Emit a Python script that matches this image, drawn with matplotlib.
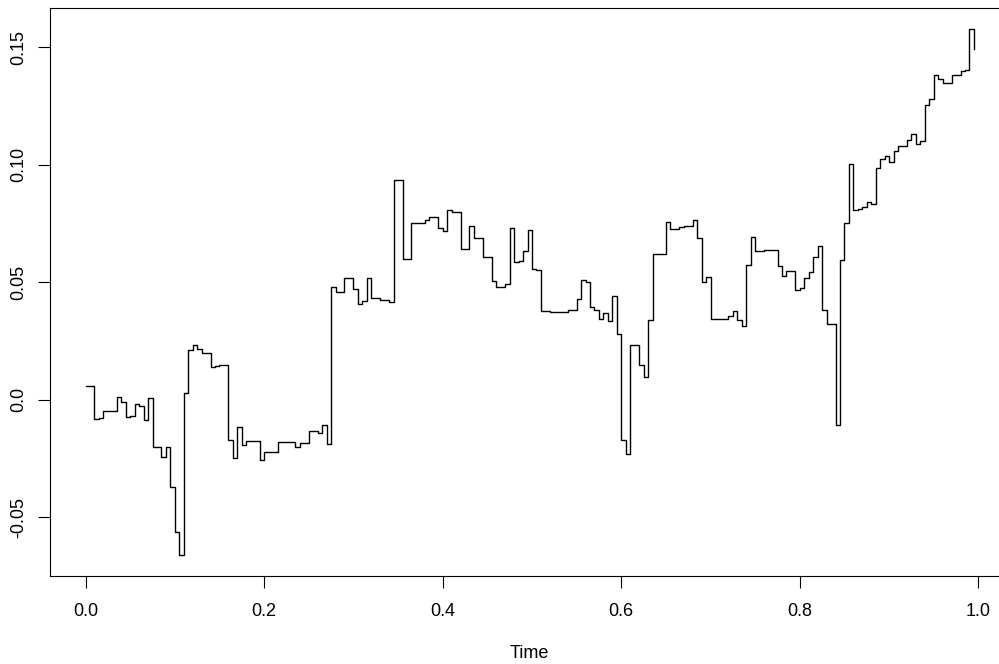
import numpy as np
import matplotlib
matplotlib.use("Agg")
import matplotlib.pyplot as plt

# sampled path, one value every 1/200 of the time axis
n_steps = 200
path_values = [
    0.0057, 0.0057, -0.0081, -0.0077, -0.0047, -0.0047, -0.0047, 0.0014, -0.0009, -0.0072,
    -0.0068, -0.0020, -0.0028, -0.0085, 0.0007, -0.0199, -0.0201, -0.0245, -0.0201, -0.0372,
    -0.0563, -0.0660, 0.0028, 0.0213, 0.0234, 0.0216, 0.0200, 0.0200, 0.0139, 0.0145,
    0.0150, 0.0146, -0.0170, -0.0248, -0.0116, -0.0191, -0.0176, -0.0176, -0.0176, -0.0258,
    -0.0224, -0.0224, -0.0224, -0.0180, -0.0180, -0.0180, -0.0180, -0.0199, -0.0184, -0.0184,
    -0.0133, -0.0133, -0.0142, -0.0106, -0.0186, 0.0480, 0.0457, 0.0457, 0.0516, 0.0516,
    0.0472, 0.0407, 0.0421, 0.0520, 0.0433, 0.0433, 0.0426, 0.0426, 0.0414, 0.0933,
    0.0933, 0.0599, 0.0599, 0.0752, 0.0752, 0.0752, 0.0763, 0.0776, 0.0776, 0.0729,
    0.0718, 0.0809, 0.0799, 0.0799, 0.0642, 0.0642, 0.0738, 0.0689, 0.0689, 0.0606,
    0.0606, 0.0504, 0.0481, 0.0481, 0.0492, 0.0731, 0.0586, 0.0591, 0.0631, 0.0722,
    0.0557, 0.0550, 0.0377, 0.0377, 0.0372, 0.0372, 0.0372, 0.0372, 0.0380, 0.0381,
    0.0429, 0.0508, 0.0500, 0.0395, 0.0380, 0.0345, 0.0368, 0.0336, 0.0440, 0.0280,
    -0.0170, -0.0230, 0.0232, 0.0232, 0.0150, 0.0099, 0.0340, 0.0621, 0.0621, 0.0621,
    0.0755, 0.0728, 0.0728, 0.0735, 0.0738, 0.0738, 0.0763, 0.0688, 0.0502, 0.0521,
    0.0343, 0.0343, 0.0343, 0.0343, 0.0357, 0.0379, 0.0340, 0.0312, 0.0572, 0.0691,
    0.0631, 0.0631, 0.0636, 0.0636, 0.0636, 0.0567, 0.0525, 0.0546, 0.0546, 0.0465,
    0.0475, 0.0520, 0.0545, 0.0607, 0.0655, 0.0384, 0.0324, 0.0324, -0.0106, 0.0596,
    0.0754, 0.1003, 0.0806, 0.0811, 0.0820, 0.0840, 0.0834, 0.0986, 0.1024, 0.1035,
    0.1011, 0.1060, 0.1081, 0.1081, 0.1104, 0.1132, 0.1089, 0.1099, 0.1255, 0.1281,
    0.1381, 0.1365, 0.1348, 0.1348, 0.1383, 0.1383, 0.1397, 0.1404, 0.1577, 0.1492,
]
x_ticks = [0.0, 0.2, 0.4, 0.6, 0.8, 1.0]
x_tick_labels = ["0.0", "0.2", "0.4", "0.6", "0.8", "1.0"]
y_ticks = [-0.05, 0.0, 0.05, 0.10, 0.15]
y_tick_labels = ["-0.05", "0.0", "0.05", "0.10", "0.15"]

times = np.arange(n_steps) / n_steps
values = np.array(path_values)

plt.rcParams["font.family"] = ["Liberation Sans", "DejaVu Sans"]

fig = plt.figure(figsize=(9.99, 6.64), dpi=100)
ax = fig.add_axes([50 / 999, 88 / 664, 959.5 / 999, 568 / 664])

ax.plot(times, values, drawstyle="steps-post", color="black", linewidth=1.0)


def padded(lo, hi, frac=0.04):
    span = hi - lo
    return lo - frac * span, hi + frac * span


ax.set_xlim(*padded(times.min(), times.max()))
ax.set_ylim(*padded(values.min(), values.max()))

ax.set_xticks(x_ticks)
ax.set_xticklabels(x_tick_labels)
ax.set_yticks(y_ticks)
ax.set_yticklabels(y_tick_labels, rotation=90, va="center")
ax.tick_params(direction="out", length=8.5, width=0.8, labelsize=13)
ax.tick_params(axis="x", pad=11)
ax.tick_params(axis="y", pad=8)
ax.set_xlabel("Time", fontsize=13, labelpad=18)

for spine in ax.spines.values():
    spine.set_linewidth(0.8)

fig.savefig("out.png", dpi=100)
